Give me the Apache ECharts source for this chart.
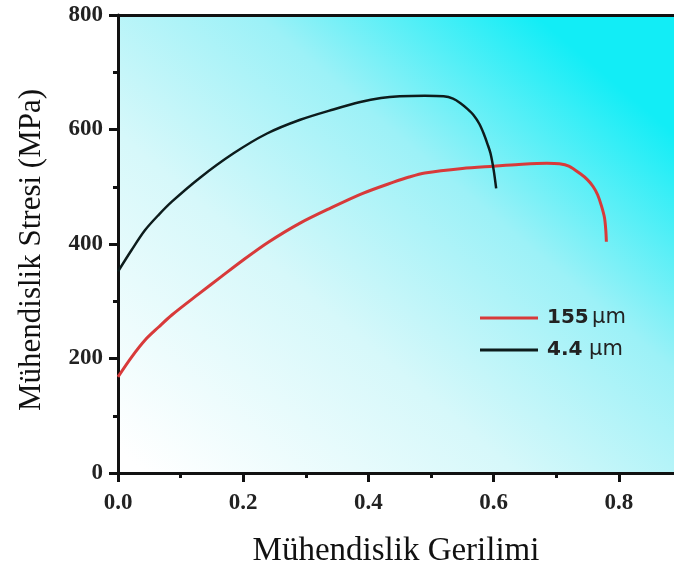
<!DOCTYPE html>
<html><head><meta charset="utf-8">
<script src="https://cdn.jsdelivr.net/npm/echarts@6/dist/echarts.min.js"></script>
<style>html,body{margin:0;padding:0;background:#fff}#c{width:674px;height:568px}</style>
</head><body><div id="c"></div>
<script>
const seriesNames = ['155 μm', '4.4  μm'];
const seriesColors = ['#d83a3a', '#0d1c1c'];
const xTicks = [0, 0.2, 0.4, 0.6, 0.8];
const xMinorTicks = [0.1, 0.3, 0.5, 0.7];
const yTicks = [0, 200, 400, 600, 800];
const xTitle = 'Mühendislik Gerilimi';
const yTitle = 'Mühendislik Stresi (MPa)';
// 155 μm (red)
const strain155 = [0, 0.022, 0.043, 0.065, 0.086, 0.128, 0.165, 0.2, 0.24, 0.29, 0.34, 0.39, 0.44, 0.465, 0.49, 0.55, 0.6, 0.64, 0.685, 0.705, 0.72, 0.738, 0.75, 0.759, 0.766, 0.772, 0.777, 0.779, 0.78];
const stress155 = [168, 203, 232, 255, 276, 312, 343, 372, 403, 436, 463, 488, 508, 517, 524, 532, 536, 539, 541, 540, 536, 523, 512, 500, 486, 467, 446, 425, 404];
// 4.4 μm (black)
const strain44 = [0, 0.022, 0.043, 0.065, 0.086, 0.13, 0.184, 0.238, 0.291, 0.344, 0.387, 0.42, 0.45, 0.49, 0.52, 0.535, 0.547, 0.558, 0.568, 0.577, 0.584, 0.59, 0.595, 0.6, 0.604];
const stress44 = [352, 390, 424, 451, 474, 515, 558, 593, 617, 635, 648, 655, 658, 659, 658, 654, 646, 636, 625, 610, 593, 575, 558, 529, 497];

const pair = (xs, ys) => xs.map((x, i) => [x, ys[i]]);
const XMAX = 0.888;
const chart = echarts.init(document.getElementById('c'), null, {renderer: 'canvas'});
const serif = '"Liberation Serif", "Times New Roman", serif';
const sans = '"DejaVu Sans", "Liberation Sans", Arial, sans-serif';
chart.setOption({
  animation: false,
  grid: {
    left: 118, right: 0, top: 15, bottom: 95, show: true, borderWidth: 0,
    outerBoundsMode: 'none', containLabel: false,
    backgroundColor: new echarts.graphic.LinearGradient(0.05, 1, 0.75, 0, [
      {offset: 0, color: '#ffffff'},
      {offset: 0.4, color: '#d6f8fa'},
      {offset: 0.7, color: '#9cf1f7'},
      {offset: 1, color: '#12edf6'}
    ])
  },
  legend: {
    orient: 'vertical', left: 480, top: 307, padding: 0, itemWidth: 58, itemHeight: 3, itemGap: 10,
    icon: 'rect', data: seriesNames,
    formatter: n => n === seriesNames[0] ? '{b|155} {u|μm}' : '{b|4.4}  {u|μm}',
    textStyle: {
      padding: [0, 0, 0, 4], lineHeight: 22,
      rich: {
        b: {fontFamily: sans, fontWeight: 'bold', fontSize: 20, color: '#222', lineHeight: 22},
        u: {fontFamily: sans, fontSize: 21, color: '#222', lineHeight: 22}
      }
    }
  },
  xAxis: [{
    type: 'value', min: 0, max: XMAX, position: 'bottom',
    name: xTitle, nameLocation: 'middle', nameGap: 62,
    nameTextStyle: {fontFamily: serif, fontSize: 33, color: '#111'},
    axisLine: {show: true, onZero: false, lineStyle: {color: '#111', width: 3}},
    axisTick: {show: true, inside: false, length: 9, customValues: xTicks, lineStyle: {color: '#111', width: 3}},
    axisLabel: {customValues: xTicks, formatter: v => v.toFixed(1), margin: 19,
      fontFamily: serif, fontWeight: 'bold', fontSize: 23, color: '#222'},
    splitLine: {show: false}
  }, {
    type: 'value', min: 0, max: XMAX, position: 'top',
    axisLine: {show: true, onZero: false, lineStyle: {color: '#111', width: 3}},
    axisTick: {show: false}, axisLabel: {show: false}, splitLine: {show: false}
  }, {
    type: 'value', min: 0, max: XMAX, position: 'bottom',
    axisLine: {show: false, onZero: false},
    axisTick: {show: true, inside: false, length: 5, customValues: xMinorTicks, lineStyle: {color: '#111', width: 3}},
    axisLabel: {show: false}, splitLine: {show: false}
  }],
  yAxis: {
    type: 'value', min: 0, max: 800, interval: 200,
    name: yTitle, nameLocation: 'middle', nameGap: 71, nameRotate: 90,
    nameTextStyle: {fontFamily: serif, fontSize: 31, color: '#111', padding: [0, 12, 0, 0]},
    axisLine: {show: true, onZero: false, lineStyle: {color: '#111', width: 3}},
    axisTick: {show: true, inside: false, length: 9, lineStyle: {color: '#111', width: 3}},
    minorTick: {show: true, splitNumber: 2, length: 5, lineStyle: {color: '#111', width: 3}},
    axisLabel: {margin: 15, fontFamily: serif, fontWeight: 'bold', fontSize: 23, color: '#222',
      customValues: yTicks},
    splitLine: {show: false}, minorSplitLine: {show: false}
  },
  series: [
    {name: seriesNames[0], type: 'line', xAxisIndex: 0, data: pair(strain155, stress155), showSymbol: false,
     smooth: 0.3,
     color: seriesColors[0], lineStyle: {color: seriesColors[0], width: 3}},
    {name: seriesNames[1], type: 'line', xAxisIndex: 0, data: pair(strain44, stress44), showSymbol: false,
     smooth: 0.3,
     color: seriesColors[1], lineStyle: {color: seriesColors[1], width: 2.5}}
  ]
});
</script></body></html>
